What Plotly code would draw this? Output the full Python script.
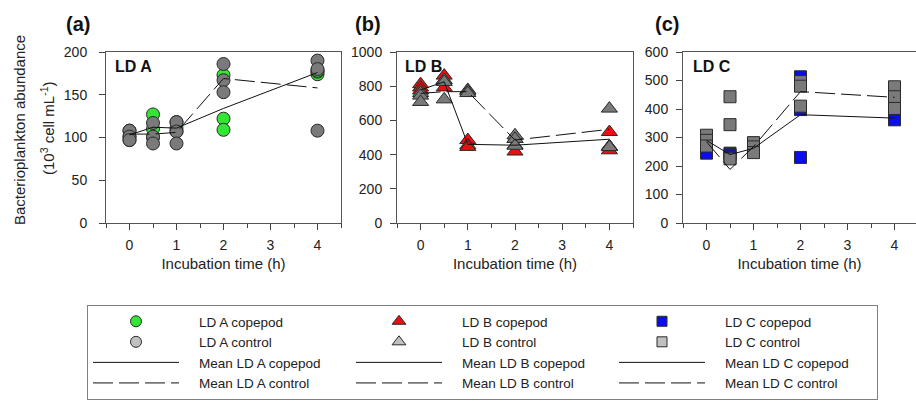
import plotly.graph_objects as go

FONT = "Liberation Sans, Arial, sans-serif"
W, H = 916, 402

times = [0, 0.5, 1, 2, 4]
x_ticks = [0, 1, 2, 3, 4]

# ---- Panel (a) LD A (10^3 cell mL^-1), three replicates per time ----
lda_copepod = [[108, 101, 97], [127, 110, 100], [118, 111, 107], [173, 122, 109], [174, 177, 178]]
lda_control = [[108, 101, 97], [117, 101, 93], [118, 107, 93], [186, 167, 153], [190, 180, 108]]
lda_mean_copepod = [103, 112, 111, 134, 176]
lda_mean_control = [104, 104, 106, 169, 158]

# ---- Panel (b) LD B ----
ldb_copepod = [[812, 792, 775], [862, 835, 793], [485, 455, 445], [492, 455, 418], [532, 448, 425]]
ldb_control = [[760, 745, 708], [836, 825, 723], [778, 770, 760], [513, 492, 452], [669, 448, 444]]
ldb_mean_copepod = [778, 826, 460, 455, 490]
ldb_mean_control = [758, 768, 768, 485, 548]

# ---- Panel (c) LD C ----
ldc_copepod = [[300, 272, 245], [245, 240, 235], [270, 262, 255], [513, 398, 230], [375, 366, 362]]
ldc_control = [[308, 290, 270], [443, 345, 225], [282, 267, 247], [496, 480, 410], [478, 443, 402]]
ldc_mean_copepod = [290, 240, 262, 380, 368]
ldc_mean_control = [285, 188, 268, 461, 441]

y_ranges = [[0, 200], [0, 1000], [0, 600]]
y_dticks = [50, 200, 100]
panel_labels = ["(a)", "(b)", "(c)"]
station_labels = ["LD A", "LD B", "LD C"]

GREEN, RED, BLUE = "#33e633", "#e81010", "#0c0cf0"
GRAY_PLOT, GRAY_LEG = "#7a7a7a", "#c0c0c0"
EDGE = "#2a2a2a"
PAD = "\u00a0\u00a0\u00a0\u00a0"


def flat(vals):
    xs = [t for t, reps in zip(times, vals) for _ in reps]
    ys = [v for reps in vals for v in reps]
    return xs, ys


panels = [
    dict(cop=lda_copepod, ctl=lda_control, mcop=lda_mean_copepod, mctl=lda_mean_control,
         symbol="circle", size=13, color=GREEN, name="LD A"),
    dict(cop=ldb_copepod, ctl=ldb_control, mcop=ldb_mean_copepod, mctl=ldb_mean_control,
         symbol="triangle-up", size=14, color=RED, name="LD B"),
    dict(cop=ldc_copepod, ctl=ldc_control, mcop=ldc_mean_copepod, mctl=ldc_mean_control,
         symbol="square", size=12, color=BLUE, name="LD C"),
]

fig = go.Figure()

for i, p in enumerate(panels):
    xa = "x" if i == 0 else f"x{i+1}"
    ya = "y" if i == 0 else f"y{i+1}"
    xs, ys = flat(p["cop"])
    fig.add_trace(go.Scatter(x=xs, y=ys, mode="markers", xaxis=xa, yaxis=ya, showlegend=False,
                             marker=dict(symbol=p["symbol"], size=p["size"], color=p["color"],
                                         line=dict(color=EDGE, width=1))))
    xs, ys = flat(p["ctl"])
    fig.add_trace(go.Scatter(x=xs, y=ys, mode="markers", xaxis=xa, yaxis=ya, showlegend=False,
                             marker=dict(symbol=p["symbol"], size=p["size"], color=GRAY_PLOT,
                                         line=dict(color=EDGE, width=1))))
    fig.add_trace(go.Scatter(x=times, y=p["mcop"], mode="lines", xaxis=xa, yaxis=ya, showlegend=False,
                             line=dict(color="#111111", width=1)))
    fig.add_trace(go.Scatter(x=times, y=p["mctl"], mode="lines", xaxis=xa, yaxis=ya, showlegend=False,
                             line=dict(color="#111111", width=1, dash="20px,6px")))

# legend entries (row-major order through legendrank)
for i, p in enumerate(panels):
    fig.add_trace(go.Scatter(x=[None], y=[None], mode="markers", name=PAD + f"{p['name']} copepod",
                             legendrank=1 + i,
                             marker=dict(symbol=p["symbol"], size=p["size"] - 2, color=p["color"],
                                         line=dict(color=EDGE, width=1))))
    fig.add_trace(go.Scatter(x=[None], y=[None], mode="markers", name=PAD + f"{p['name']} control",
                             legendrank=4 + i,
                             marker=dict(symbol=p["symbol"], size=p["size"] - 2, color=GRAY_LEG,
                                         line=dict(color=EDGE, width=1))))
    fig.add_trace(go.Scatter(x=[None], y=[None], mode="lines", name=PAD + f"Mean {p['name']} copepod",
                             legendrank=7 + i, line=dict(color="#111111", width=1)))
    fig.add_trace(go.Scatter(x=[None], y=[None], mode="lines", name=PAD + f"Mean {p['name']} control",
                             legendrank=10 + i, line=dict(color="#111111", width=1, dash="20px,6px")))

x_domains = [[106 / W, 341 / W], [397 / W, 633 / W], [683 / W, 1.0]]
x_ranges = [[-0.5, 4.5], [-0.5, 4.5], [-0.5, -0.5 + 233 / 47]]
y_dom = [1 - 223 / H, 1 - 52 / H]
label_x = [64, 353, 653]
station_x = [113, 403, 691]
y_standoff = [9, 5, 5]

layout = dict(
    width=W, height=H, autosize=False,
    margin=dict(l=0, r=0, t=0, b=0, autoexpand=False),
    paper_bgcolor="white", plot_bgcolor="white",
    font=dict(family=FONT, size=14, color="#222222"),
    legend=dict(orientation="h", x=87 / W, xanchor="left", y=1 - 305 / H, yanchor="top",
                bordercolor="#808080", borderwidth=1, bgcolor="white",
                font=dict(family=FONT, size=13.5, color="#222222"),
                itemwidth=86, entrywidth=162, entrywidthmode="pixels",
                traceorder="normal", tracegroupgap=0),
    annotations=[],
)

for i in range(3):
    sx = "" if i == 0 else str(i + 1)
    layout["xaxis" + sx] = dict(
        domain=x_domains[i], range=x_ranges[i], anchor="y" + sx, automargin=False,
        tickmode="array", tickvals=x_ticks, ticks="outside", ticklen=6, tickwidth=1, tickcolor="#444",
        minor=dict(dtick=0.5, tick0=0, ticks="outside", ticklen=4, tickcolor="#444", showgrid=False),
        showline=True, linecolor="#555", linewidth=1, mirror=True, showgrid=False, zeroline=False,
        tickfont=dict(size=14, color="#222"), ticklabelstandoff=3,
        title=dict(text="Incubation time (h)", font=dict(size=15, color="#222"), standoff=6),
    )
    layout["yaxis" + sx] = dict(
        domain=y_dom, range=y_ranges[i], anchor="x" + sx, automargin=False,
        tick0=0, dtick=y_dticks[i], ticks="outside", ticklen=6, tickwidth=1, tickcolor="#444",
        showline=True, linecolor="#555", linewidth=1, mirror=True, showgrid=False, zeroline=False,
        tickfont=dict(size=14, color="#222"), ticklabelstandoff=y_standoff[i],
    )
    layout["annotations"].append(dict(
        text=f"<b>{panel_labels[i]}</b>", xref="paper", yref="paper", x=label_x[i] / W, y=1 - 24 / H,
        xanchor="left", yanchor="middle", showarrow=False, font=dict(size=20, color="#111")))
    layout["annotations"].append(dict(
        text=f"<b>{station_labels[i]}</b>", xref="paper", yref="paper", x=station_x[i] / W, y=1 - 66 / H,
        xanchor="left", yanchor="middle", showarrow=False, font=dict(size=16, color="#111")))

layout["annotations"].append(dict(
    text="Bacterioplankton abundance", xref="paper", yref="paper", x=19 / W, y=1 - 130 / H,
    xanchor="center", yanchor="middle", textangle=-90, showarrow=False, font=dict(size=15, color="#222")))
layout["annotations"].append(dict(
    text="(10<sup>3</sup> cell mL<sup>-1</sup>)", xref="paper", yref="paper", x=47 / W, y=1 - 128 / H,
    xanchor="center", yanchor="middle", textangle=-90, showarrow=False, font=dict(size=15, color="#222")))

fig.update_layout(**layout)
fig.write_html("out.html")
